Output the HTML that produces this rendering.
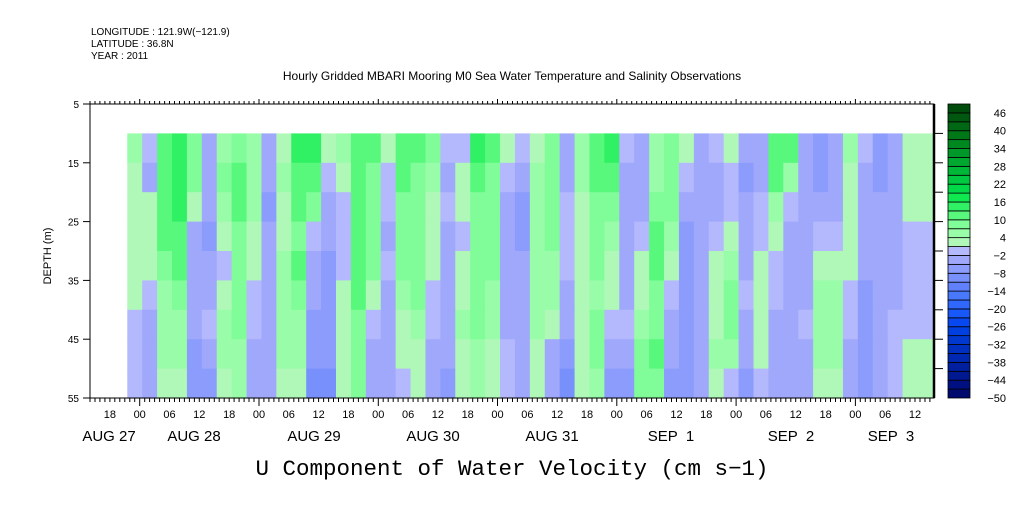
<!DOCTYPE html>
<html><head><meta charset="utf-8">
<style>
body{margin:0;background:#fff;}
svg text{font-family:"Liberation Sans",sans-serif;fill:#000;}
</style></head>
<body>
<svg id="chart" width="1009" height="504" viewBox="0 0 1009 504" xmlns="http://www.w3.org/2000/svg">
<rect width="1009" height="504" fill="#fff"/>
<text x="91" y="35" font-size="10">LONGITUDE : 121.9W(−121.9)</text>
<text x="91" y="47" font-size="10">LATITUDE : 36.8N</text>
<text x="91" y="59" font-size="10">YEAR : 2011</text>
<text x="512" y="80" font-size="12" text-anchor="middle">Hourly Gridded MBARI Mooring M0 Sea Water Temperature and Salinity Observations</text>
<g id="cells"></g>
<g id="axes"></g>
<g id="cbar"></g>
<text transform="translate(51,256) rotate(-90)" font-size="11" text-anchor="middle">DEPTH (m)</text>
<text x="512" y="475" font-size="22.5" text-anchor="middle" style="font-family:'Liberation Mono',monospace">U Component of Water Velocity (cm s−1)</text>
</svg>
<script>
// hours since Aug 28 00:00 for column starts (3-hour bins)
const startHour = -2.5;
const binHours = 3;
const depthBins = [10,15,20,25,30,35,40,45,50];
const binDepth = 5;
const depth10 = [5,-2,12,14,9,-3,6,9,6,-3,3,14,13,2,5,10,10,2,12,10,8,-2,-1,13,11,3,-2,3,7,-4,6,12,14,-2,-3,4,8,1,-3,-2,2,-5,-3,12,10,-4,-6,-5,4,-2,-7,-3,2,2];
const depth15 = [1,-3,12,14,8,-4,7,10,6,-5,4,12,10,0,2,10,9,-2,10,9,5,-3,1,11,9,-2,-4,4,8,-3,4,10,12,-3,-4,6,8,-2,-4,-3,0,-6,-3,10,6,-5,-6,-5,3,-3,-6,-3,2,2];
const depth20 = [1,1,10,13,3,-5,5,10,4,-6,3,10,8,-3,-2,11,9,-2,8,8,3,-1,2,9,8,-3,-6,6,8,-1,2,9,8,-4,-3,9,7,-4,-5,-3,-1,-5,-2,6,-2,-5,-4,-3,2,-4,-5,-3,1,2];
const depth25 = [3,3,10,12,-3,-6,2,8,3,-5,2,9,-2,-4,-2,12,8,-3,7,9,2,-3,0,8,8,-4,-6,6,7,0,3,9,5,-4,-1,10,5,-6,-5,-1,1,-4,-1,2,-3,-4,-1,-1,1,-4,-5,-3,-2,-1];
const depth30 = [3,2,9,12,-4,-5,0,8,2,-4,4,10,-4,-6,0,12,7,-2,7,9,1,-4,2,8,8,-4,-5,6,6,-2,2,8,3,-3,1,10,2,-7,-4,1,4,-3,2,-1,-3,-3,3,1,1,-5,-5,-3,-2,-2];
const depth35 = [1,-1,6,8,-4,-3,3,9,-1,-4,5,8,-5,-7,1,11,3,-3,6,7,0,-4,3,9,6,-3,-5,5,5,-3,2,6,1,-3,3,9,-1,-6,-3,3,8,-2,3,-2,-4,-3,5,4,0,-6,-5,-3,-2,-2];
const depth40 = [-1,-3,4,5,-5,-2,5,8,-2,-4,6,6,-6,-7,3,9,-2,-3,3,4,-2,-4,4,7,5,-3,-4,4,2,-5,3,7,-1,-2,5,9,-3,-6,-3,3,7,-3,3,-3,-4,-2,5,6,-2,-6,-5,-2,-1,-1];
const depth45 = [-2,-4,4,4,-6,-4,4,6,-3,-5,5,4,-7,-8,3,8,-3,-4,1,2,-4,-5,3,6,3,-2,-4,2,-3,-8,3,7,-3,-4,8,10,-5,-7,-4,4,4,-5,2,-3,-4,-3,4,4,-4,-6,-4,-2,1,2];
const depth50 = [-2,-5,3,3,-7,-6,3,4,-3,-5,3,1,-9,-10,3,8,-4,-4,0,2,-5,-7,3,4,2,-2,-3,2,-5,-9,2,6,-6,-7,7,8,-6,-8,-4,3,-2,-7,-1,-4,-5,-4,2,2,-5,-6,-4,-2,2,2];
const rows = [depth10,depth15,depth20,depth25,depth30,depth35,depth40,depth45,depth50];
const depthTicks = [5,15,25,35,45,55];
const hourLabels = ["18","00","06","12","18","00","06","12","18","00","06","12","18","00","06","12","18","00","06","12","18","00","06","12","18","00","06","12"];
const dateLabels = ["AUG 27","AUG 28","AUG 29","AUG 30","AUG 31","SEP  1","SEP  2","SEP  3"];
const dateCenters = [109,194,314,433,552,671,791,891];
const cbarTicks = [46,40,34,28,22,16,10,4,-2,-8,-14,-20,-26,-32,-38,-44,-50];

const X0=90,X1=934,Y0=104,Y1=398;
const H0=-10, HPH=4.97; // hours at left edge, px per hour
function xs(h){return X0+(h-H0)*HPH;}
function ys(d){return Y0+(d-5)*(Y1-Y0)/50;}
const CMIN=-50,CSTEP=3;
const colors=["#000a6e","#001080","#001890","#0020a0","#0028b0","#0030c0","#0038d0","#0040e0","#0848f0","#1858f8","#3068fc","#4878fc","#6080fc","#7890fc","#8c9cfc","#a0a8fc","#b4b8fc",
"#b0f8b8","#98fca8","#80fc98","#58f87c","#30f064","#10e850","#00d848","#00c840","#00b838","#00a830","#009828","#008820","#007818","#006814","#005810","#004c0c"];
function color(v){let k=Math.floor((v-CMIN)/CSTEP);k=Math.max(0,Math.min(colors.length-1,k));return colors[k];}
const NS="http://www.w3.org/2000/svg";
function mk(tag,attrs,parent){const e=document.createElementNS(NS,tag);for(const k in attrs)e.setAttribute(k,attrs[k]);parent.appendChild(e);return e;}

const cells=document.getElementById('cells');
rows.forEach((row,r)=>{
  row.forEach((v,i)=>{
    const h=startHour+i*binHours;
    const xa=xs(h), xb=Math.min(xs(h+binHours),X1-1);
    const ya=ys(depthBins[r]), yb=ys(depthBins[r]+binDepth);
    const c=mk('rect',{x:xa.toFixed(2),y:ya.toFixed(2),width:(xb-xa+0.6).toFixed(2),height:(yb-ya+0.6).toFixed(2),fill:color(v)},cells);
    
    
  });
});

const axes=document.getElementById('axes');
const frame=mk('rect',{x:X0,y:Y0,width:X1-X0,height:Y1-Y0,fill:'none',stroke:'#000','stroke-width':1},axes);


mk('line',{x1:X1,y1:Y0,x2:X1,y2:Y1,stroke:'#000','stroke-width':2.5},axes);
for(let h=Math.ceil(H0);xs(h)<=X1;h++){
  const x=xs(h).toFixed(1);
  const major=((h%24)+24)%24===0;
  mk('line',{x1:x,y1:Y1,x2:x,y2:Y1+(major?8:4),stroke:'#000','stroke-width':1},axes);
  mk('line',{x1:x,y1:Y0,x2:x,y2:Y0-(major?5:3),stroke:'#000','stroke-width':1},axes);
}
hourLabels.forEach((s,i)=>{
  const h=-6+i*6;
  const t=mk('text',{x:xs(h).toFixed(1),y:418,'font-size':11,'text-anchor':'middle'},axes);
  t.textContent=s;
  
  
});
dateLabels.forEach((s,i)=>{
  const t=mk('text',{x:dateCenters[i],y:441,'font-size':15,'text-anchor':'middle'},axes);
  t.style.whiteSpace='pre';
  t.textContent=s;
  
  
});
depthTicks.forEach(d=>{
  const y=ys(d);
  mk('line',{x1:X0-7,y1:y,x2:X0,y2:y,stroke:'#000','stroke-width':1},axes);
  const t=mk('text',{x:X0-11,y:y+4,'font-size':10,'text-anchor':'end'},axes);
  t.textContent=d;
  
  
});
for(let d=10;d<55;d+=5){const y=ys(d);mk('line',{x1:X1,y1:y,x2:X1+9,y2:y,stroke:'#000','stroke-width':1},axes);}

const cb=document.getElementById('cbar');
const CX=948,CW=22,CN=colors.length;
const cy=v=>Y1-(v-CMIN)/(CN*CSTEP)*(Y1-Y0);
colors.forEach((c,k)=>{
  const ya=cy(CMIN+(k+1)*CSTEP), yb=cy(CMIN+k*CSTEP);
  const r=mk('rect',{x:CX,y:ya.toFixed(2),width:CW,height:(yb-ya).toFixed(2),fill:c,stroke:'#000','stroke-width':0.8},cb);
  
  
});
cbarTicks.forEach(v=>{
  const t=mk('text',{x:1006,y:(cy(v)+4).toFixed(1),'font-size':11,'text-anchor':'end'},cb);
  t.textContent=(v<0?'−':'')+Math.abs(v);
  
  
});
</script>
</body></html>
